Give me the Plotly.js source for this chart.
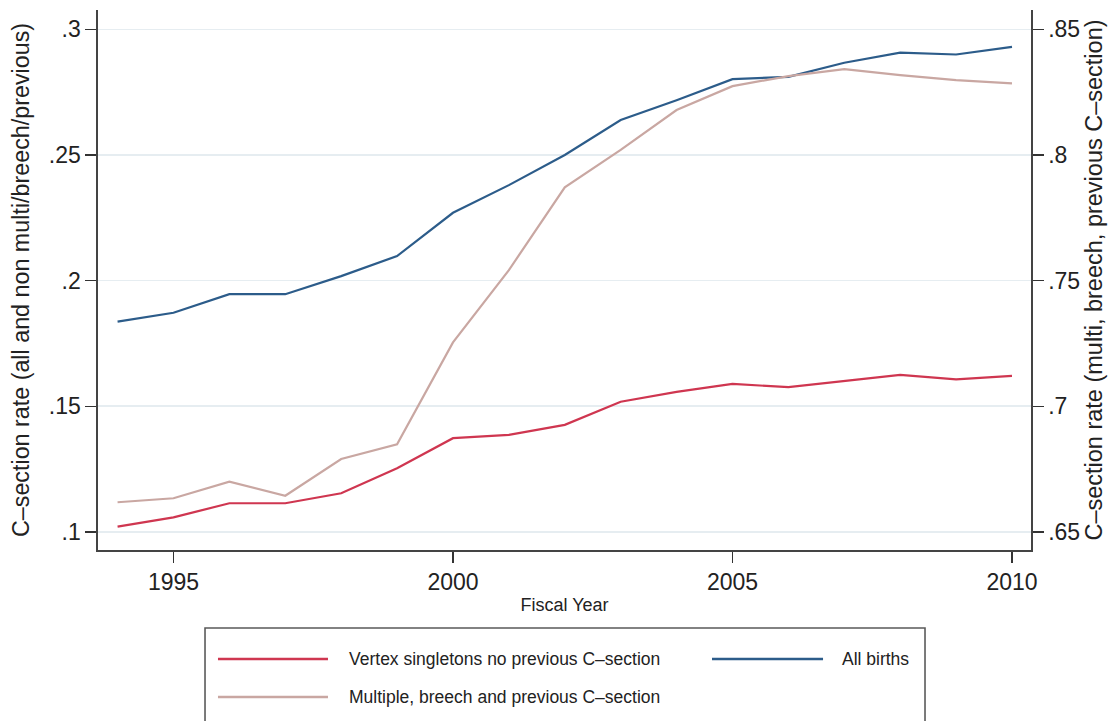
<!DOCTYPE html>
<html>
<head>
<meta charset="utf-8">
<script src="https://cdn.plot.ly/plotly-3.0.1.min.js"></script>
<style>
  html, body { margin: 0; padding: 0; background: #ffffff; }
  #chart { width: 1116px; height: 721px; }
</style>
</head>
<body>
<div id="chart"></div>
<script>
// Fiscal years covered
const years = [1994, 1995, 1996, 1997, 1998, 1999, 2000, 2001, 2002,
               2003, 2004, 2005, 2006, 2007, 2008, 2009, 2010];

// C-section rates, left axis
const vertexSingletons = [0.1021, 0.1058, 0.1114, 0.1114, 0.1154, 0.1253, 0.1373, 0.1386, 0.1426,
                          0.1518, 0.1557, 0.1589, 0.1576, 0.1600, 0.1625, 0.1607, 0.1621];
const allBirths = [0.1837, 0.1872, 0.1946, 0.1946, 0.2018, 0.2098, 0.2270, 0.2380, 0.2500,
                   0.2639, 0.2718, 0.2802, 0.2811, 0.2867, 0.2907, 0.2900, 0.2930];

// C-section rate, right axis
const multipleBreechPrev = [0.6618, 0.6634, 0.6700, 0.6644, 0.6790, 0.6849, 0.7254, 0.7542, 0.7871,
                            0.8020, 0.8179, 0.8274, 0.8314, 0.8342, 0.8318, 0.8298, 0.8285];

// Series names
const seriesNames = ["Vertex singletons no previous C\u2013section",
                     "All births",
                     "Multiple, breech and previous C\u2013section"];

// Axis ticks
const xTicks = [1995, 2000, 2005, 2010];
const leftTicks = [0.10, 0.15, 0.20, 0.25, 0.30];
const leftTickText = [".1", ".15", ".2", ".25", ".3"];
const rightTicks = [0.65, 0.70, 0.75, 0.80, 0.85];
const rightTickText = [".65", ".7", ".75", ".8", ".85"];

const colors = { vertex: "#cf3650", all: "#2c5c8a", multi: "#c9a7a2" };
const FONT = "Liberation Sans, Arial, Helvetica, sans-serif";

const traces = [
  { x: years, y: vertexSingletons, name: seriesNames[0], type: "scatter", mode: "lines",
    line: { color: colors.vertex, width: 2.2 }, yaxis: "y" },
  { x: years, y: allBirths, name: seriesNames[1], type: "scatter", mode: "lines",
    line: { color: colors.all, width: 2.2 }, yaxis: "y" },
  { x: years, y: multipleBreechPrev, name: seriesNames[2], type: "scatter", mode: "lines",
    line: { color: colors.multi, width: 2.2 }, yaxis: "y2" }
];

// Hand-built legend box below the plot (paper coordinates)
const legendEntries = [
  { name: seriesNames[0], color: colors.vertex, x0: 0.1286, x1: 0.2465, tx: 0.2668, y: -0.2019 },
  { name: seriesNames[1], color: colors.all,    x0: 0.6581, x1: 0.7771, tx: 0.7953, y: -0.2019 },
  { name: seriesNames[2], color: colors.multi,  x0: 0.1286, x1: 0.2465, tx: 0.2668, y: -0.2722 }
];

const shapes = [
  { type: "rect", xref: "paper", yref: "paper", x0: 0.1147, x1: 0.8864, y0: -0.36, y1: -0.1444,
    line: { color: "#5a5a5a", width: 1.6 }, fillcolor: "rgba(0,0,0,0)" }
];
const annotations = [];
legendEntries.forEach(e => {
  shapes.push({ type: "line", xref: "paper", yref: "paper", x0: e.x0, x1: e.x1, y0: e.y, y1: e.y,
                line: { color: e.color, width: 2.4 } });
  annotations.push({ xref: "paper", yref: "paper", x: e.tx, y: e.y, text: e.name,
                     showarrow: false, xanchor: "left", yanchor: "middle",
                     font: { family: FONT, size: 17.5, color: "#222" } });
});

const layout = {
  width: 1116, height: 721,
  margin: { l: 98, r: 85, t: 10, b: 171 },
  paper_bgcolor: "#ffffff",
  plot_bgcolor: "#ffffff",
  showlegend: false,
  font: { family: FONT, color: "#222" },
  xaxis: {
    range: [1993.65, 2010.34],
    tickvals: xTicks,
    ticks: "outside", ticklen: 11, tickwidth: 1.2, tickcolor: "#333",
    showline: true, linecolor: "#444", linewidth: 1.6, mirror: false,
    showgrid: false, zeroline: false,
    tickfont: { family: FONT, size: 23, color: "#222" },
    title: { text: "Fiscal Year", font: { family: FONT, size: 18, color: "#222" }, standoff: 4 },
    automargin: false
  },
  yaxis: {
    range: [0.0928, 0.3077],
    tickvals: leftTicks, ticktext: leftTickText,
    ticks: "outside", ticklen: 11, tickwidth: 1.2, tickcolor: "#333",
    showline: true, linecolor: "#444", linewidth: 1.6, mirror: false,
    showgrid: true, gridcolor: "#e6edf1", gridwidth: 1.6, zeroline: false,
    tickfont: { family: FONT, size: 23, color: "#222" },
    title: { text: "C\u2013section rate (all and non multi/breech/previous)",
             font: { family: FONT, size: 23.3, color: "#222" }, standoff: 12 },
    automargin: false
  },
  yaxis2: {
    overlaying: "y", side: "right",
    range: [0.6428, 0.8577],
    tickvals: rightTicks, ticktext: rightTickText,
    ticks: "outside", ticklen: 11, tickwidth: 1.2, tickcolor: "#333",
    showline: true, linecolor: "#444", linewidth: 1.6, mirror: false,
    showgrid: false, zeroline: false,
    tickfont: { family: FONT, size: 23, color: "#222" },
    title: { text: "C\u2013section rate (multi, breech, previous C\u2013section)",
             font: { family: FONT, size: 23.5, color: "#222" }, standoff: 6 },
    automargin: false
  },
  shapes: shapes,
  annotations: annotations
};

Plotly.newPlot("chart", traces, layout, { displayModeBar: false, staticPlot: true });
</script>
</body>
</html>
